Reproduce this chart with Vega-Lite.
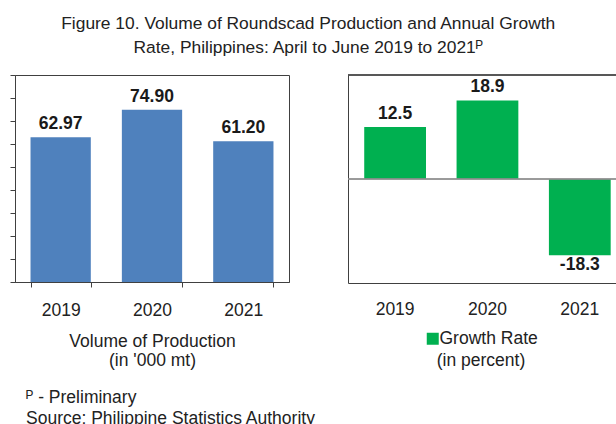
{
  "$schema": "https://vega.github.io/schema/vega-lite/v6.json",
  "padding": {"left": 9, "top": 14, "right": 0, "bottom": 0},
  "background": "white",
  "title": {
    "text": ["ᴾ - Preliminary", "Source: Philippine Statistics Authority"],
    "orient": "bottom", "anchor": "start", "fontSize": 17.5, "fontWeight": "normal",
    "dx": 17, "offset": 19, "lineHeight": 21, "color": "#222", "font": "Liberation Sans"
  },
  "config": {
    "font": "Liberation Sans",
    "view": {"stroke": null},
    "axis": {"labelColor": "#222", "titleColor": "#222", "labelFont": "Liberation Sans", "titleFont": "Liberation Sans", "grid": false}
  },
  "data": {"values": [
    {"year": "2019", "volume": 62.97, "growth": 12.5},
    {"year": "2020", "volume": 74.90, "growth": 18.9},
    {"year": "2021", "volume": 61.20, "growth": -18.3}
  ]},
  "vconcat": [
    {
      "title": {
        "text": ["Figure 10. Volume of Roundscad Production and  Annual Growth", "Rate, Philippines: April to June 2019 to 2021ᴾ"],
        "fontSize": 17.4, "font": "Liberation Sans", "fontWeight": "normal", "lineHeight": 24,
        "anchor": "middle", "color": "#222", "offset": 18, "dx": -5
      },
      "spacing": 57,
      "hconcat": [
        {
          "width": 274, "height": 207,
          "view": {"stroke": "#404040", "strokeWidth": 1},
          "encoding": {
            "x": {
              "field": "year", "type": "nominal",
              "scale": {"paddingInner": 0.34, "paddingOuter": 0.17},
              "axis": {
                "labelAngle": 0, "title": ["Volume of Production", "(in '000 mt)"],
                "ticks": true, "tickSize": 5, "tickBand": "extent", "labelPadding": 14, "titlePadding": 14,
                "domainColor": "#404040", "tickColor": "#404040", "labelFontSize": 17.5,
                "titleFontSize": 17.5, "titleFontWeight": "normal", "titleLineHeight": 18.5
              }
            },
            "y": {
              "field": "volume", "type": "quantitative", "scale": {"domain": [0, 90]},
              "axis": {"values": [0, 10, 20, 30, 40, 50, 60, 70, 80, 90], "labels": false, "title": null,
                       "tickSize": 5, "domainColor": "#404040", "tickColor": "#404040"}
            }
          },
          "layer": [
            {
              "mark": {"type": "bar", "color": "#4F81BD"}
            },
            {
              "mark": {"type": "text", "baseline": "bottom", "dy": -4, "fontSize": 17.5, "fontWeight": "bold", "color": "#1a1a1a"},
              "encoding": {
                "text": {"field": "volume", "type": "quantitative", "format": ".2f"}
              }
            }
          ]
        },
        {
          "width": 269, "height": 208,
          "layer": [
            {
              "mark": {"type": "bar"},
              "encoding": {
                "x": {
                  "field": "year", "type": "nominal",
                  "scale": {"paddingInner": 0.331, "paddingOuter": 0.122, "align": 0.72},
                  "axis": {"labelAngle": 0, "title": null, "ticks": false, "labelPadding": 17,
                           "domainColor": "#404040", "labelFontSize": 17.5}
                },
                "y": {
                  "field": "growth", "type": "quantitative", "scale": {"domain": [-25, 25]},
                  "axis": {"labels": false, "ticks": false, "title": null, "domainColor": "#404040"}
                },
                "color": {
                  "datum": "Growth Rate", "type": "nominal",
                  "scale": {"range": ["#00B050"]},
                  "legend": {
                    "orient": "none", "legendX": 409, "legendY": 255, "title": "(in percent)",
                    "titleOrient": "bottom", "titleAnchor": "middle", "symbolType": "square", "symbolSize": 144,
                    "labelFontSize": 17.5, "titleFontSize": 17.5, "titleFontWeight": "normal", "symbolStrokeWidth": 0,
                    "labelOffset": -2, "labelColor": "#222", "titleColor": "#222", "labelFont": "Liberation Sans", "titleFont": "Liberation Sans"
                  }
                }
              }
            },
            {
              "mark": {"type": "rule", "color": "#404040"},
              "encoding": {"y": {"datum": 25}}
            },
            {
              "mark": {"type": "rule", "color": "#8c8c8c"},
              "encoding": {"y": {"datum": 0}}
            },
            {
              "transform": [{"filter": "datum.growth >= 0"}],
              "mark": {"type": "text", "baseline": "bottom", "dy": -4, "fontSize": 17.5, "fontWeight": "bold", "color": "#1a1a1a"},
              "encoding": {
                "x": {"field": "year", "type": "nominal"},
                "y": {"field": "growth", "type": "quantitative"},
                "text": {"field": "growth", "type": "nominal"}
              }
            },
            {
              "transform": [{"filter": "datum.growth < 0"}],
              "mark": {"type": "text", "baseline": "top", "dy": 1, "fontSize": 17.5, "fontWeight": "bold", "color": "#1a1a1a"},
              "encoding": {
                "x": {"field": "year", "type": "nominal"},
                "y": {"field": "growth", "type": "quantitative"},
                "text": {"field": "growth", "type": "nominal"}
              }
            }
          ]
        }
      ]
    }
  ]
}
